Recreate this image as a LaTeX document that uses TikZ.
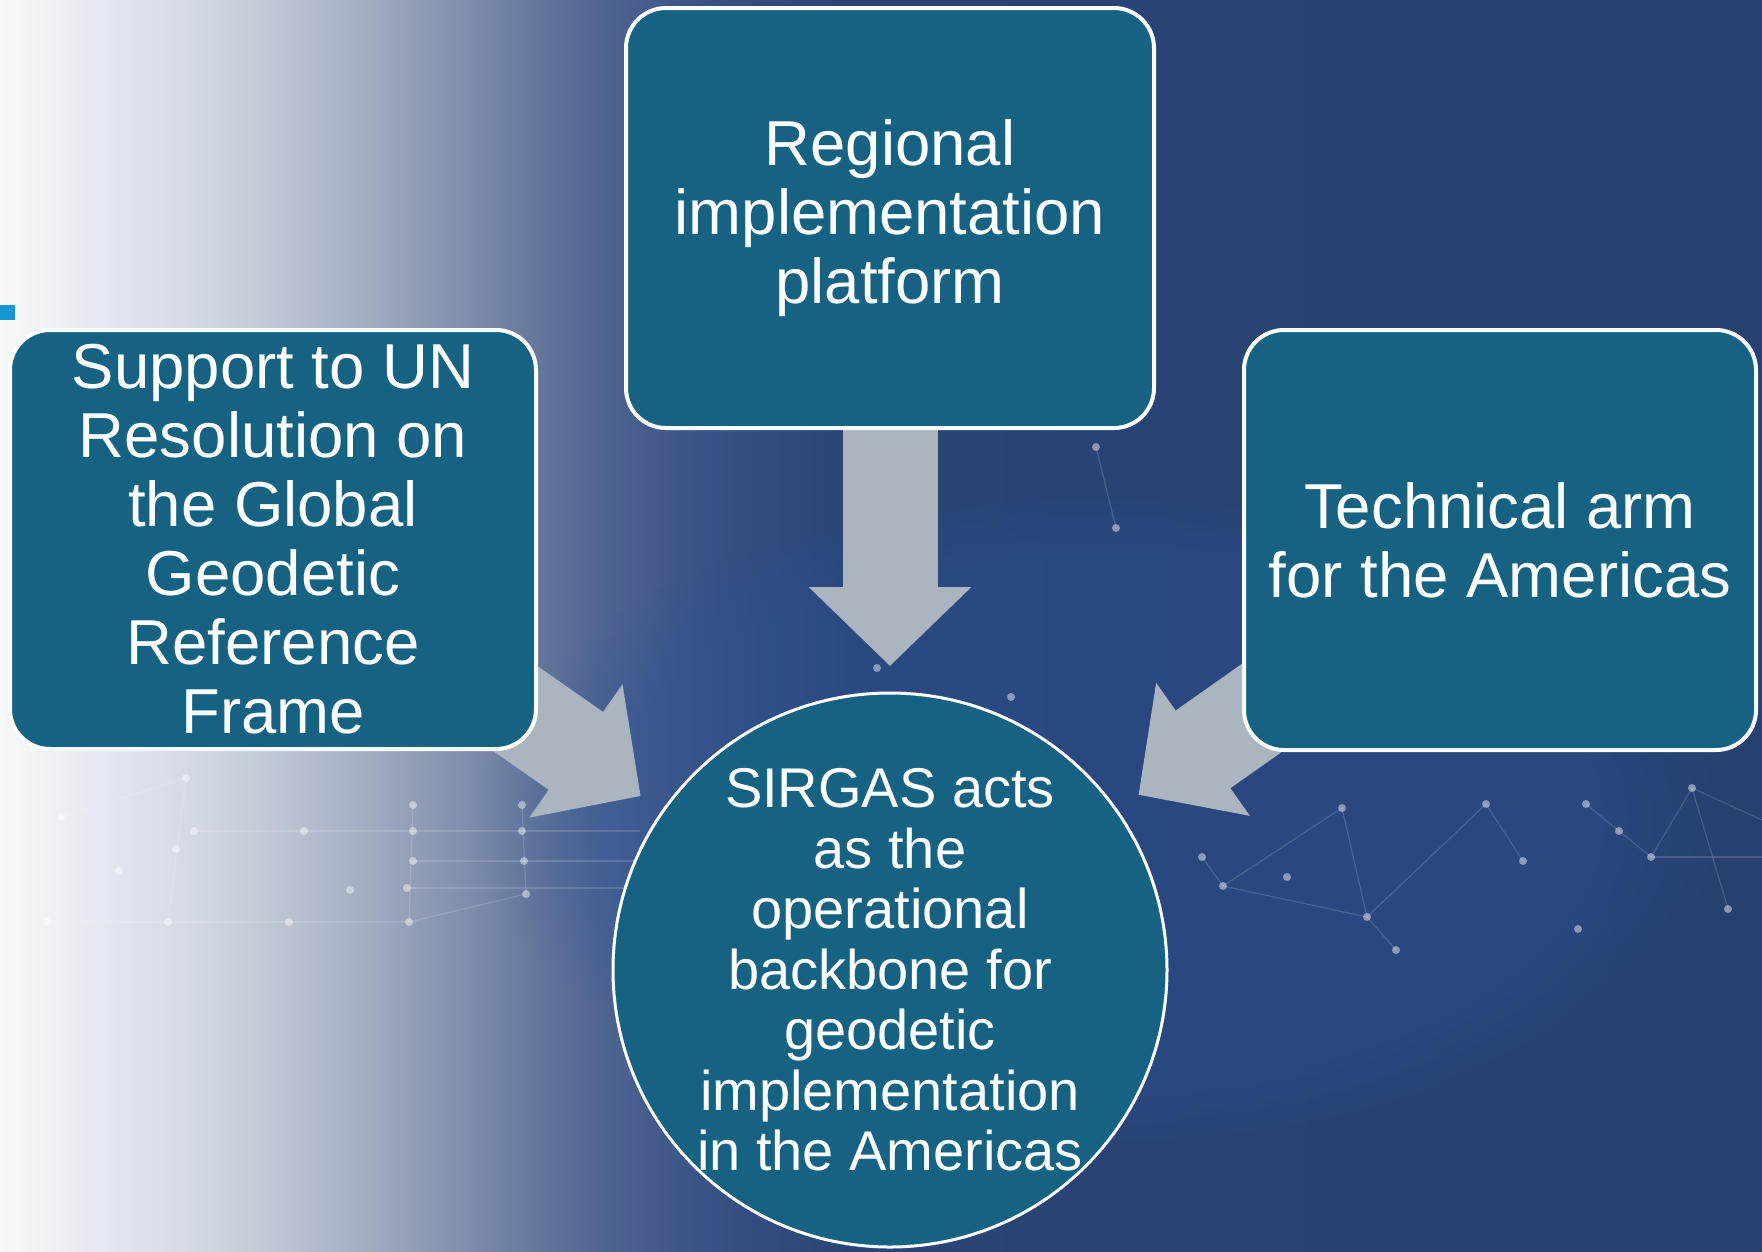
\documentclass[tikz,border=0pt]{standalone}
\usepackage{fontspec}
\setmainfont{Liberation Sans}
\usetikzlibrary{positioning, arrows.meta, fadings}

\definecolor{boxteal}{RGB}{21,98,130}
\definecolor{arrowgrey}{RGB}{171,181,192}
\definecolor{markblue}{RGB}{21,151,213}
\definecolor{glowblue}{RGB}{46,84,152}
\definecolor{bgA}{RGB}{248,249,251}
\definecolor{bgB}{RGB}{228,232,239}
\definecolor{bgC}{RGB}{210,216,226}
\definecolor{bgD}{RGB}{183,192,208}
\definecolor{bgE}{RGB}{151,163,187}
\definecolor{bgF}{RGB}{114,130,162}
\definecolor{bgG}{RGB}{80,101,145}
\definecolor{bgH}{RGB}{58,82,133}
\definecolor{bgI}{RGB}{42,68,118}
\definecolor{bgJ}{RGB}{39,65,111}

% the path is mapped onto 25bp..75bp of the shading
\pgfdeclarehorizontalshading{slidefade}{100bp}{%
  color(0bp)=(bgA); color(25bp)=(bgA); color(27.85bp)=(bgB);
  color(30.7bp)=(bgC); color(33.5bp)=(bgD); color(36.35bp)=(bgE);
  color(39.2bp)=(bgF); color(42bp)=(bgG); color(44.85bp)=(bgH);
  color(49.1bp)=(bgI); color(75bp)=(bgJ); color(100bp)=(bgJ)}

\pgfdeclarelayer{back}
\pgfdeclarelayer{arrowlayer}
\pgfsetlayers{back,arrowlayer,main}

\tikzset{
infobox/.style={rectangle, rounded corners=40pt, draw=white, line width=4pt,
  fill=boxteal, text=white, align=center, inner sep=2pt,
  font=\fontsize{63.5}{69}\selectfont},
hubcircle/.style={circle, draw=white, line width=3pt, fill=boxteal,
  text=white, align=center, inner sep=-20pt, minimum size=554pt,
  font=\fontsize{56}{60.5}\selectfont},
blockarrow/.style={draw=arrowgrey, line width=95pt,
  -{Triangle[length=79pt, width=158pt]}, shorten >=304pt},
netdot/.style={fill=white, opacity=0.45},
netline/.style={draw=white, opacity=0.15, line width=1.2pt},
}

\begin{document}
\begin{tikzpicture}[x=1pt, y=-1pt]
    \useasboundingbox (0,0) rectangle (1762,1251);

    %boxes
    \node[infobox, minimum width=526pt, minimum height=419pt] (gggrf) at (273,539.5)
        {Support to UN\\ Resolution on\\ the Global\\ Geodetic\\ Reference\\ Frame};
    \node[infobox, minimum width=528pt, minimum height=420pt] (regional) at (890,218)
        {Regional\\ implementation\\ platform};
    \node[infobox, minimum width=512pt, minimum height=420pt] (technical) at (1500,540)
        {Technical arm\\ for the Americas};

    %centre circle
    \node[hubcircle] (sirgas) at (890,970)
        {SIRGAS acts\\ as the\\ operational\\ backbone for\\ geodetic\\ implementation\\ in the Americas};

    %arrows, behind the boxes
    \begin{pgfonlayer}{arrowlayer}
    \draw[blockarrow]  (regional.center) -- (sirgas.center);
    \draw[blockarrow]     (gggrf.center) -- (sirgas.center);
    \draw[blockarrow] (technical.center) -- (sirgas.center);
    \end{pgfonlayer}

    %background
    \begin{pgfonlayer}{back}
    \shade[shading=slidefade] (0,0) rectangle (1762,1251);
    \fill[glowblue, opacity=0.35, path fading=circle with fuzzy edge 20 percent]
        (1100,820) ellipse (620 and 330);

    % network, left
    \draw[netline] (61,817)--(186,778)--(168,922);
    \draw[netline] (194,831)--(640,831);
    \draw[netline] (413,861)--(640,861);
    \draw[netline] (407,888)--(640,888);
    \draw[netline] (47,922)--(409,922)--(526,894);
    \draw[netline] (413,805)--(409,922);
    \draw[netline] (522,805)--(526,894);
    % network, right
    \draw[netline] (1202,857)--(1223,886)--(1342,808)--(1367,917)--(1486,804)--(1523,861);
    \draw[netline] (1367,917)--(1396,950);
    \draw[netline] (1223,886)--(1367,917);
    \draw[netline] (1586,804)--(1651,857)--(1692,788)--(1762,820);
    \draw[netline] (1692,788)--(1728,909);
    \draw[netline] (1651,857)--(1762,857);
    \draw[netline] (1096,447)--(1116,528);
    \foreach \p in {(186,778),(176,849),(168,922),(289,922),(304,831),(194,831),
        (413,805),(413,831),(413,861),(407,888),(409,922),(522,805),(522,831),
        (524,861),(526,894),(350,890),(119,871),(61,817),(47,922),
        (1342,808),(1202,857),(1223,886),(1287,877),(1367,917),(1396,950),
        (1486,804),(1586,804),(1619,831),(1651,857),(1692,788),(1728,909),
        (1578,929),(1523,861),(1096,447),(1116,528),(877,668),(1011,697)}
        \fill[netdot] \p circle (4);
    \end{pgfonlayer}

    %corner mark
    \fill[markblue] (0,305) rectangle (15,320);
\end{tikzpicture}
\end{document}
